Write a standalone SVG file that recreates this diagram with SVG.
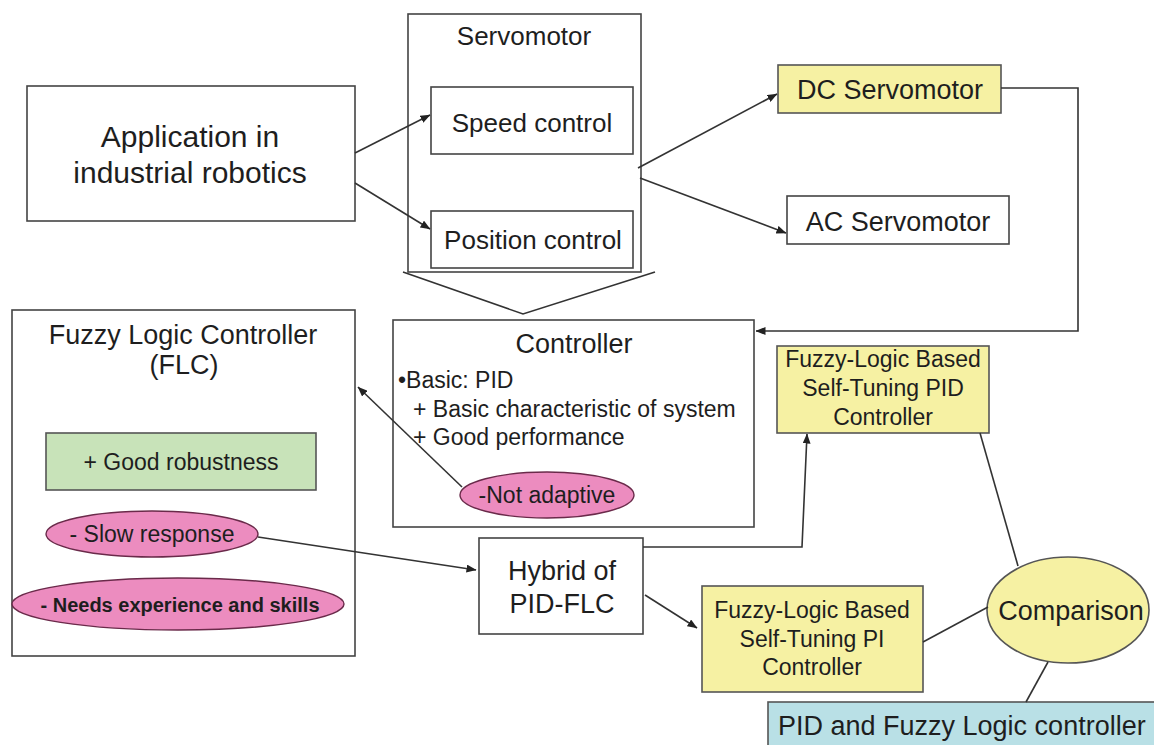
<svg xmlns="http://www.w3.org/2000/svg" width="1154" height="745" viewBox="0 0 1154 745">
<defs>
<marker id="ah" viewBox="0 0 10 8" refX="9.5" refY="4" markerWidth="10" markerHeight="8" markerUnits="userSpaceOnUse" orient="auto">
<path d="M0,0 L10,4 L0,8 Z" fill="#222"/>
</marker>
</defs>
<style>
text{font-family:"Liberation Sans",Arial,sans-serif;fill:#1e1e1e}
.box{fill:#fff;stroke:#444;stroke-width:1.6}
.yel{fill:#f6f1a3;stroke:#555;stroke-width:1.6}
.grn{fill:#c8e3b9;stroke:#555;stroke-width:1.6}
.pnk{fill:#ec8cbf;stroke:#6a2a4a;stroke-width:1.4}
.cyn{fill:#b9e0e6;stroke:#555;stroke-width:1.6}
.ln{fill:none;stroke:#333;stroke-width:1.6}
.arr{fill:none;stroke:#333;stroke-width:1.6;marker-end:url(#ah)}
.c{text-anchor:middle}
</style>
<rect width="1154" height="745" fill="#fff"/>

<g id="app">
<rect class="box" x="27" y="86" width="328" height="135"/>
<text class="c" x="190" y="147" font-size="30">Application in</text>
<text class="c" x="190" y="183" font-size="30">industrial robotics</text>
</g>

<g id="servomotor">
<rect class="box" x="408" y="14" width="233" height="258"/>
<text class="c" x="524" y="45" font-size="26">Servomotor</text>
<polyline class="ln" points="403,272 523,314 655,272"/>
</g>

<g id="speed">
<rect class="box" x="431" y="87" width="202" height="67"/>
<text class="c" x="532" y="132" font-size="26">Speed control</text>
</g>

<g id="position">
<rect class="box" x="431" y="211" width="202" height="57"/>
<text class="c" x="533" y="249" font-size="26">Position control</text>
</g>

<g id="dc">
<rect class="yel" x="778" y="65" width="223" height="48"/>
<text class="c" x="890" y="99" font-size="27">DC Servomotor</text>
</g>

<g id="ac">
<rect class="box" x="787" y="196" width="222" height="48"/>
<text class="c" x="898" y="231" font-size="27">AC Servomotor</text>
</g>

<g id="flc">
<rect class="box" x="12" y="310" width="343" height="346"/>
<text class="c" x="183" y="344" font-size="27">Fuzzy Logic Controller</text>
<text class="c" x="184" y="374" font-size="27">(FLC)</text>
</g>

<g id="robust">
<rect class="grn" x="46" y="433" width="270" height="57"/>
<text class="c" x="181" y="470" font-size="23">+ Good robustness</text>
</g>

<g id="slow">
<ellipse class="pnk" cx="152" cy="534" rx="106" ry="23"/>
<text class="c" x="152" y="542" font-size="23">- Slow response</text>
</g>

<g id="needs">
<ellipse class="pnk" cx="178" cy="604" rx="166" ry="26"/>
<text class="c" x="180" y="612" font-size="20" font-weight="bold">- Needs experience and skills</text>
</g>

<g id="controller">
<rect class="box" x="393" y="320" width="361" height="207"/>
<text class="c" x="574" y="353" font-size="27">Controller</text>
<text x="398" y="388" font-size="23">•Basic: PID</text>
<text x="413" y="417" font-size="23">+ Basic characteristic of system</text>
<text x="413" y="445" font-size="23">+ Good performance</text>
</g>

<g id="notadaptive">
<ellipse class="pnk" cx="547" cy="495" rx="87" ry="23"/>
<text class="c" x="547" y="503" font-size="23">-Not adaptive</text>
</g>

<g id="hybrid">
<rect class="box" x="479" y="538" width="164" height="96"/>
<text class="c" x="562" y="580" font-size="27">Hybrid of</text>
<text class="c" x="562" y="613" font-size="27">PID-FLC</text>
</g>

<g id="fuzzypid">
<rect class="yel" x="777" y="346" width="212" height="87"/>
<text class="c" x="883" y="367" font-size="23">Fuzzy-Logic Based</text>
<text class="c" x="883" y="396" font-size="23">Self-Tuning PID</text>
<text class="c" x="883" y="425" font-size="23">Controller</text>
</g>

<g id="fuzzypi">
<rect class="yel" x="702" y="586" width="221" height="106"/>
<text class="c" x="812" y="618" font-size="23">Fuzzy-Logic Based</text>
<text class="c" x="812" y="647" font-size="23">Self-Tuning PI</text>
<text class="c" x="812" y="675" font-size="23">Controller</text>
</g>

<g id="comparison">
<ellipse class="yel" cx="1068" cy="610" rx="81" ry="53"/>
<text class="c" x="1071" y="620" font-size="27">Comparison</text>
</g>

<g id="pidfuzzy">
<rect class="cyn" x="768" y="702" width="400" height="60"/>
<text x="778" y="735" font-size="27">PID and Fuzzy Logic controller</text>
</g>

<g id="connectors">
<line class="arr" x1="355" y1="153" x2="430" y2="115"/>
<line class="arr" x1="355" y1="183" x2="430" y2="229"/>
<line class="arr" x1="638" y1="168" x2="777" y2="94"/>
<line class="arr" x1="640" y1="178" x2="786" y2="233"/>
<polyline class="arr" points="1001,88 1078,88 1078,331 756,331"/>
<line class="arr" x1="462" y1="487" x2="358" y2="387"/>
<line class="arr" x1="258" y1="537" x2="476" y2="570"/>
<polyline class="arr" points="643,547 802,547 807,434"/>
<line class="arr" x1="645" y1="595" x2="697" y2="628"/>
<line class="ln" x1="980" y1="433" x2="1018" y2="566"/>
<line class="ln" x1="923" y1="642" x2="988" y2="607"/>
<line class="ln" x1="1048" y1="662" x2="1026" y2="702"/>
</g>
</svg>
